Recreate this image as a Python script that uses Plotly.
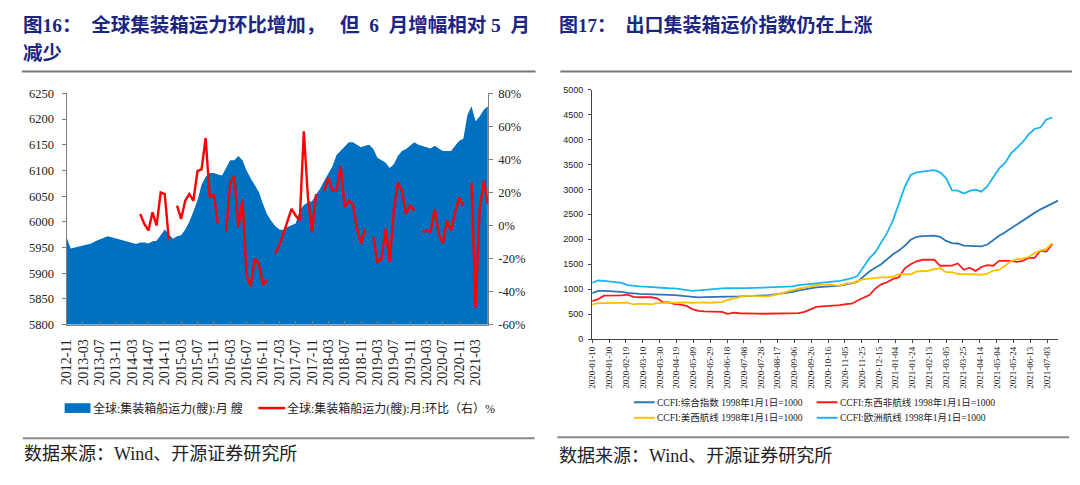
import plotly.graph_objects as go
import pandas as pd

W, H = 1080, 485
def px(x): return x / W
def py(y): return 1 - y / H

# ---------------- Left chart data (monthly, 2012-11 .. 2021-06) ----------------
months = pd.period_range('2012-11', '2021-06', freq='M').strftime('%Y-%m').tolist()
capacity = [5970, 5948, 5950, 5952, 5954, 5956, 5958, 5962, 5965, 5968,
            5972, 5970, 5968, 5966, 5963, 5961, 5959, 5957, 5960, 5960,
            5958, 5962, 5963, 5975, 5985, 5976, 5967, 5972, 5974, 5985,
            6000, 6020, 6042, 6072, 6088, 6095, 6095, 6092, 6090, 6105,
            6120, 6120, 6128, 6120, 6100, 6085, 6072, 6058, 6035, 6015,
            6002, 5992, 5985, 5984, 5990, 5993, 5997, 6022, 6033, 6038,
            6040, 6053, 6065, 6080, 6095, 6108, 6130, 6138, 6145, 6155,
            6155, 6150, 6145, 6148, 6150, 6142, 6125, 6120, 6115, 6105,
            6112, 6128, 6138, 6142, 6148, 6155, 6150, 6147, 6145, 6143,
            6148, 6143, 6138, 6138, 6138, 6148, 6158, 6162, 6208, 6225,
            6196, 6205, 6218, 6225]
N = None
mom = [N] * 18 + [7, 1, -3, 8, 0, 20, 19, -9,
       N, 12, 4, 15, 19, 15, 33, 34, 53, 17, 19, 1,
       N, -4, 26, 30, -1, 16, -30, -37, -20, -23, -36, -33,
       N, -17, -12, -5, 2, 10, 6, 3, 57, 17, -4, 19,
       N, 21, 29, 21, 21, 36, 11, 15, 13, -2, -11, -2,
       N, -7, -22, -20, -2, -22, 9, 26, 21, 7, 12, 9,
       N, -4, -3, -4, 10, -5, -11, 3, -3, 8, 17, 12,
       N, 26, -50, 10, 27, 13]
left_ticks = months[::4]
right_ticks = [-60, -40, -20, 0, 20, 40, 60, 80]
right_ticktext = ['-60%', '-40%', '-20%', '0%', '20%', '40%', '60%', '80%']

# ---------------- Right chart data (weekly CCFI) ----------------
weeks = pd.date_range('2020-01-10', periods=80, freq='7D')
ccfi_comp = [923, 965, 968, 963, 955, 945, 925, 910, 905, 903,
             903, 900, 895, 888, 880, 868, 850, 840, 838, 840,
             840, 840, 840, 842, 845, 855, 862, 865, 866, 868,
             880, 897, 910, 928, 948, 975, 1000, 1019, 1035, 1048,
             1058, 1058, 1070, 1097, 1115, 1150, 1260, 1355, 1430, 1500,
             1600, 1700, 1774, 1870, 1990, 2050, 2065, 2070, 2072, 2050,
             1968, 1923, 1916, 1875, 1871, 1865, 1858, 1895, 1990, 2070,
             2140, 2220, 2300, 2370, 2450, 2529, 2600, 2660, 2710, 2774]
ccfi_europe = [1129, 1174, 1165, 1150, 1140, 1125, 1080, 1060, 1055, 1052,
               1040, 1039, 1030, 1019, 1015, 995, 975, 968, 975, 987,
               1000, 1010, 1015, 1019, 1025, 1022, 1020, 1025, 1020, 1022,
               1025, 1030, 1035, 1045, 1055, 1080, 1097, 1105, 1116, 1130,
               1142, 1150, 1165, 1194, 1220, 1270, 1440, 1620, 1742, 1950,
               2129, 2380, 2700, 3050, 3290, 3340, 3355, 3370, 3387, 3342,
               3226, 2981, 2975, 2916, 2968, 2994, 2955, 3065, 3250, 3420,
               3530, 3720, 3830, 3950, 4100, 4210, 4240, 4400, 4439, None]
ccfi_eastwest_africa = [761, 800, 871, 871, 871, 875, 890, 845, 839, 839,
                        839, 819, 740, 735, 700, 690, 665, 600, 565, 556,
                        555, 555, 545, 505, 529, 518, 520, 515, 510, 508,
                        512, 505, 510, 520, 515, 520, 548, 590, 645, 655,
                        665, 665, 680, 703, 710, 774, 830, 884, 1013, 1097,
                        1140, 1206, 1239, 1419, 1500, 1560, 1590, 1594, 1594, 1470,
                        1465, 1471, 1516, 1390, 1432, 1368, 1445, 1484, 1471, 1568,
                        1568, 1568, 1548, 1568, 1626, 1626, 1770, 1755, 1903, None]
ccfi_uswest = [690, 723, 723, 723, 723, 723, 729, 697, 710, 705,
               697, 723, 725, 730, 735, 742, 738, 729, 735, 735,
               729, 735, 742, 787, 813, 845, 871, 865, 858, 858,
               860, 885, 910, 950, 985, 1010, 1032, 1060, 1084, 1090,
               1097, 1080, 1071, 1110, 1120, 1160, 1200, 1213, 1230, 1239,
               1239, 1250, 1303, 1295, 1300, 1355, 1355, 1370, 1400, 1419,
               1342, 1342, 1303, 1305, 1310, 1300, 1290, 1310, 1374, 1387,
               1470, 1560, 1600, 1613, 1645, 1723, 1774, 1806, 1923, None]
date_ticks = pd.date_range('2020-01-10', '2021-07-03', freq='20D')

series_names = ['CCFI:综合指数 1998年1月1日=1000', 'CCFI:东西非航线 1998年1月1日=1000',
                'CCFI:美西航线 1998年1月1日=1000', 'CCFI:欧洲航线 1998年1月1日=1000']
series_colors = ['#2E75B6', '#FF1A1A', '#FFC000', '#1CB4F0']

SERIF = 'Liberation Serif, Noto Sans CJK SC'
SANS = 'Liberation Sans, Noto Sans CJK SC'
TITLEF = 'Liberation Serif, Noto Sans CJK SC'
AXC = '#7f7f7f'

fig = go.Figure()
fig.add_trace(go.Scatter(x=months, y=capacity, mode='lines', fill='tozeroy',
                         line=dict(width=0, color='#0070C0'), fillcolor='#0070C0',
                         xaxis='x', yaxis='y', showlegend=False, hoverinfo='skip'))
fig.add_trace(go.Scatter(x=months, y=mom, mode='lines', connectgaps=False,
                         line=dict(width=2.4, color='#FF0000'),
                         xaxis='x', yaxis='y2', showlegend=False, hoverinfo='skip'))

for vals, c in zip([ccfi_comp, ccfi_eastwest_africa, ccfi_uswest, ccfi_europe],
                   series_colors):
    fig.add_trace(go.Scatter(x=weeks, y=vals, mode='lines',
                             line=dict(width=1.8, color=c),
                             xaxis='x2', yaxis='y3', showlegend=False, hoverinfo='skip'))

fig.update_layout(
    width=W, height=H, autosize=False,
    margin=dict(l=0, r=0, t=0, b=0),
    paper_bgcolor='white', plot_bgcolor='white',
    showlegend=False,
    xaxis=dict(domain=[px(60), px(484)], anchor='y', type='category',
               range=[0, len(months) - 1],
               tickmode='array', tickvals=left_ticks, ticktext=left_ticks,
               tickangle=-90, tickfont=dict(family=SERIF, size=14, color='#222'),
               ticklabelstandoff=8,
               showline=True, linecolor=AXC, linewidth=1,
               ticks='inside', ticklen=4, tickcolor=AXC, showgrid=False, zeroline=False),
    yaxis=dict(domain=[py(327), py(89)], anchor='x', range=[5800, 6250], dtick=50,
               tickfont=dict(family=SERIF, size=12.5, color='#222'),
               ticklabelstandoff=5,
               showline=True, linecolor=AXC, linewidth=1,
               ticks='outside', ticklen=4, tickcolor=AXC, showgrid=False, zeroline=False),
    yaxis2=dict(overlaying='y', side='right', anchor='x', range=[-60, 80],
                tickmode='array', tickvals=right_ticks, ticktext=right_ticktext,
                tickfont=dict(family=SERIF, size=12.5, color='#222'),
                ticklabelstandoff=3,
                showline=True, linecolor=AXC, linewidth=1,
                ticks='outside', ticklen=4, tickcolor=AXC, showgrid=False, zeroline=False),
    xaxis2=dict(domain=[px(589), px(1058)], anchor='y3', type='date',
                range=['2020-01-10', '2021-07-16'],
                tickmode='array', tickvals=date_ticks,
                ticktext=[d.strftime('%Y-%m-%d') for d in date_ticks],
                tickangle=-90, tickfont=dict(family=SERIF, size=9, color='#222'),
                showline=True, linecolor='#444', linewidth=1,
                ticks='outside', ticklen=3, tickcolor='#444', showgrid=False, zeroline=False),
    yaxis3=dict(domain=[py(342), py(85)], anchor='x2', range=[0, 5000], dtick=500,
                tickfont=dict(family=SANS, size=9, color='#222'),
                ticklabelstandoff=3,
                showline=True, linecolor='#444', linewidth=1,
                ticks='outside', ticklen=3, tickcolor='#444', showgrid=False, zeroline=False),
)

shapes = []
annos = []
TITLE_C = '#1C2582'

def text(x, y, s, size, family, color='#222', bold=False):
    if bold:
        s = '<b>' + s + '</b>'
    annos.append(dict(x=px(x), y=py(y), xref='paper', yref='paper', text=s,
                      showarrow=False, xanchor='left', yanchor='middle',
                      font=dict(size=size, family=family, color=color), borderpad=0))

def hline(x0, x1, y, color, width):
    shapes.append(dict(type='line', xref='paper', yref='paper', x0=px(x0), x1=px(x1),
                       y0=py(y), y1=py(y), line=dict(color=color, width=width)))

NB = '\u00a0'
# Titles
text(15, 19, '图16：' + NB * 2 + '全球集装箱运力环比增加，' + NB * 3 + '但' + NB * 2 + '6'
     + NB * 2 + '月增幅相对' + NB + '5' + NB * 2 + '月', 19.5, TITLEF, TITLE_C, True)
text(15, 48, '减少', 19.5, TITLEF, TITLE_C, True)
text(555, 19, '图17：' + NB * 2 + '出口集装箱运价指数仍在上涨', 19, TITLEF, TITLE_C, True)
hline(15, 532, 66.5, '#777777', 2)
hline(557, 1072, 66.5, '#777777', 2)

# Left legend
shapes.append(dict(type='rect', xref='paper', yref='paper', x0=px(58), x1=px(84),
                   y0=py(418), y1=py(408), fillcolor='#0070C0', line=dict(width=0)))
text(86, 413, '全球:集装箱船运力(艘):月 艘', 12, SERIF)
hline(253, 280, 413, '#FF0000', 2.5)
text(281, 413, '全球:集装箱船运力(艘):月:环比（右）%', 12, SERIF)

# Right legend
leg_pos = [(631, 407), (815, 407), (631, 423), (815, 423)]
for (lx, ly), name, c in zip(leg_pos, series_names, series_colors):
    hline(lx, lx + 21, ly, c, 2)
    text(lx + 22, ly, name, 9.5, SERIF)

# Footers
hline(16, 531, 444, '#888888', 2)
hline(554, 1069, 443, '#888888', 2)
text(16, 460, '数据来源：Wind、开源证券研究所', 18, SERIF)
text(555, 462, '数据来源：Wind、开源证券研究所', 18, SERIF)

fig.update_layout(shapes=shapes, annotations=annos)
fig.write_html('out.html', config={'displayModeBar': False},
               post_script="document.body.style.margin='0';document.body.style.overflow='hidden';")
